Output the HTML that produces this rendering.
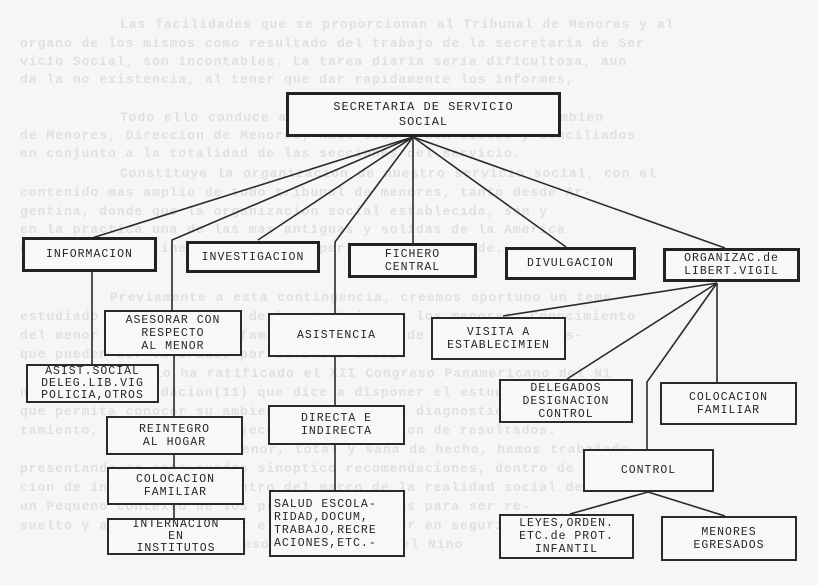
<!DOCTYPE html>
<html><head><meta charset="utf-8"><style>
html,body{margin:0;padding:0;background:#f6f6f4;}
#c{position:relative;width:818px;height:585px;overflow:hidden;background:#f6f6f4;}
.bg{position:absolute;left:20px;width:790px;font-family:"Liberation Mono",monospace;font-size:13px;color:#e0e0de;white-space:nowrap;letter-spacing:1px;font-weight:bold;}
.b{position:absolute;box-sizing:border-box;border:2px solid #2a2a2a;background:#f8f8f6;display:flex;align-items:center;justify-content:center;text-align:center;font-family:"Liberation Mono",monospace;font-size:11.5px;line-height:13px;color:#262626;letter-spacing:1px;}
.s{line-height:12px;}
.t{border-width:3px;border-color:#222;}
svg{position:absolute;left:0;top:0;}
</style></head><body><div id="c">
<div class="bg" style="top:17px;left:120px">Las facilidades que se proporcionan al Tribunal de Menores y al</div>
<div class="bg" style="top:36px">organo de los mismos como resultado del trabajo de la secretaria de Ser</div>
<div class="bg" style="top:54px">vicio Social, son incontables. La tarea diaria seria dificultosa, aun</div>
<div class="bg" style="top:72px">da la no existencia, al tener que dar rapidamente los informes,</div>
<div class="bg" style="top:110px;left:120px">Todo ello conduce a que el Tribunal de Menores. Tambien</div>
<div class="bg" style="top:128px">de Menores, Direccion de Menores, hace todo y son vistos y conciliados</div>
<div class="bg" style="top:146px">en conjunto a la totalidad de las secciones del servicio.</div>
<div class="bg" style="top:166px;left:120px">Constituye la organizacion de nuestro servicio social, con el</div>
<div class="bg" style="top:185px">contenido mas amplio de todo tribunal de menores, tanto desde Ar-</div>
<div class="bg" style="top:204px">gentina, donde que la organizacion social establecida, son y</div>
<div class="bg" style="top:222px">en la practica una de las mas antiguas y solidas de la America</div>
<div class="bg" style="top:241px">del sur del continente, con una experiencia muy grande.</div>
<div class="bg" style="top:290px;left:110px">Previamente a esta contingencia, creemos oportuno un tema</div>
<div class="bg" style="top:309px">estudiado por la relacion de los trabajos en los menores. Conocimiento</div>
<div class="bg" style="top:328px">del menor en su ambiente familiar y social, de intervencion, as-</div>
<div class="bg" style="top:347px">que pueden ser valorados por diversos casos.</div>
<div class="bg" style="top:366px;left:110px">Esto lo ha ratificado el XII Congreso Panamericano del Ni</div>
<div class="bg" style="top:385px">no en la recomendacion(11) que dice a disponer el estudio del menor</div>
<div class="bg" style="top:404px">que permita conocer su ambiente, realizar el diagnostico, tra-</div>
<div class="bg" style="top:423px">tamiento, programacion, ejecucion y evaluacion de resultados.</div>
<div class="bg" style="top:442px;left:110px">Atendiendo al menor, total y sana de hecho, hemos trabajado</div>
<div class="bg" style="top:461px">presentando en este cuadro sinoptico recomendaciones, dentro de la aten-</div>
<div class="bg" style="top:480px">cion de instituciones, dentro del marco de la realidad social de</div>
<div class="bg" style="top:499px">un Pequeno contexto de los problemas tratados para ser re-</div>
<div class="bg" style="top:518px">suelto y adecuadamente por el grupo del menor en seguridad.</div>
<div class="bg" style="top:537px;left:120px">(21) XII Congreso Panamericano del Nino</div>

<svg width="818" height="585" stroke="#2a2a2a" stroke-width="1.6" fill="none">
<line x1="413" y1="137" x2="92" y2="238"/>
<polyline points="413,137 172,240 172,310"/>
<line x1="413" y1="137" x2="258" y2="240"/>
<polyline points="413,137 335,242 335,313"/>
<line x1="413" y1="137" x2="413" y2="243"/>
<line x1="413" y1="137" x2="566" y2="247"/>
<line x1="413" y1="137" x2="725" y2="248"/>
<line x1="92" y1="272" x2="92" y2="365"/>
<line x1="174" y1="356" x2="174" y2="416"/>
<line x1="174" y1="455" x2="174" y2="467"/>
<line x1="174" y1="505" x2="174" y2="518"/>
<line x1="335" y1="357" x2="335" y2="405"/>
<line x1="335" y1="445" x2="335" y2="490"/>
<line x1="717" y1="283" x2="503" y2="316"/>
<line x1="717" y1="283" x2="567" y2="379"/>
<polyline points="717,283 647,382 647,449"/>
<line x1="717" y1="283" x2="717" y2="382"/>
<line x1="648" y1="492" x2="570" y2="514"/>
<line x1="648" y1="492" x2="725" y2="516"/>
</svg>

<div class="b t" style="left:286px;top:92px;width:275px;height:45px;font-size:12px;line-height:15px;">SECRETARIA DE SERVICIO<br>SOCIAL</div>
<div class="b t" style="left:22px;top:237px;width:135px;height:35px;">INFORMACION</div>
<div class="b t" style="left:186px;top:241px;width:134px;height:32px;">INVESTIGACION</div>
<div class="b t" style="left:348px;top:243px;width:129px;height:35px;">FICHERO<br>CENTRAL</div>
<div class="b t" style="left:505px;top:247px;width:131px;height:33px;">DIVULGACION</div>
<div class="b t" style="left:663px;top:248px;width:137px;height:34px;">ORGANIZAC.de<br>LIBERT.VIGIL</div>

<div class="b" style="left:104px;top:310px;width:138px;height:46px;">ASESORAR CON<br>RESPECTO<br>AL MENOR</div>
<div class="b" style="left:268px;top:313px;width:137px;height:44px;">ASISTENCIA</div>
<div class="b" style="left:431px;top:317px;width:135px;height:43px;">VISITA A<br>ESTABLECIMIEN</div>
<div class="b s" style="left:26px;top:364px;width:133px;height:39px;">ASIST.SOCIAL<br>DELEG.LIB.VIG<br>POLICIA,OTROS</div>

<div class="b" style="left:106px;top:416px;width:137px;height:39px;">REINTEGRO<br>AL HOGAR</div>
<div class="b" style="left:107px;top:467px;width:137px;height:38px;">COLOCACION<br>FAMILIAR</div>
<div class="b s" style="left:107px;top:518px;width:138px;height:37px;">INTERNACION<br>EN<br>INSTITUTOS</div>
<div class="b" style="left:268px;top:405px;width:137px;height:40px;">DIRECTA E<br>INDIRECTA</div>
<div class="b" style="left:269px;top:490px;width:136px;height:67px;text-align:left;justify-content:flex-start;padding-left:3px;">SALUD ESCOLA-<br>RIDAD,DOCUM,<br>TRABAJO,RECRE<br>ACIONES,ETC.-</div>

<div class="b" style="left:499px;top:379px;width:134px;height:44px;">DELEGADOS<br>DESIGNACION<br>CONTROL</div>
<div class="b" style="left:660px;top:382px;width:137px;height:43px;">COLOCACION<br>FAMILIAR</div>
<div class="b" style="left:583px;top:449px;width:131px;height:43px;">CONTROL</div>
<div class="b" style="left:499px;top:514px;width:135px;height:45px;">LEYES,ORDEN.<br>ETC.de PROT.<br>INFANTIL</div>
<div class="b" style="left:661px;top:516px;width:136px;height:45px;">MENORES<br>EGRESADOS</div>
</div></body></html>
